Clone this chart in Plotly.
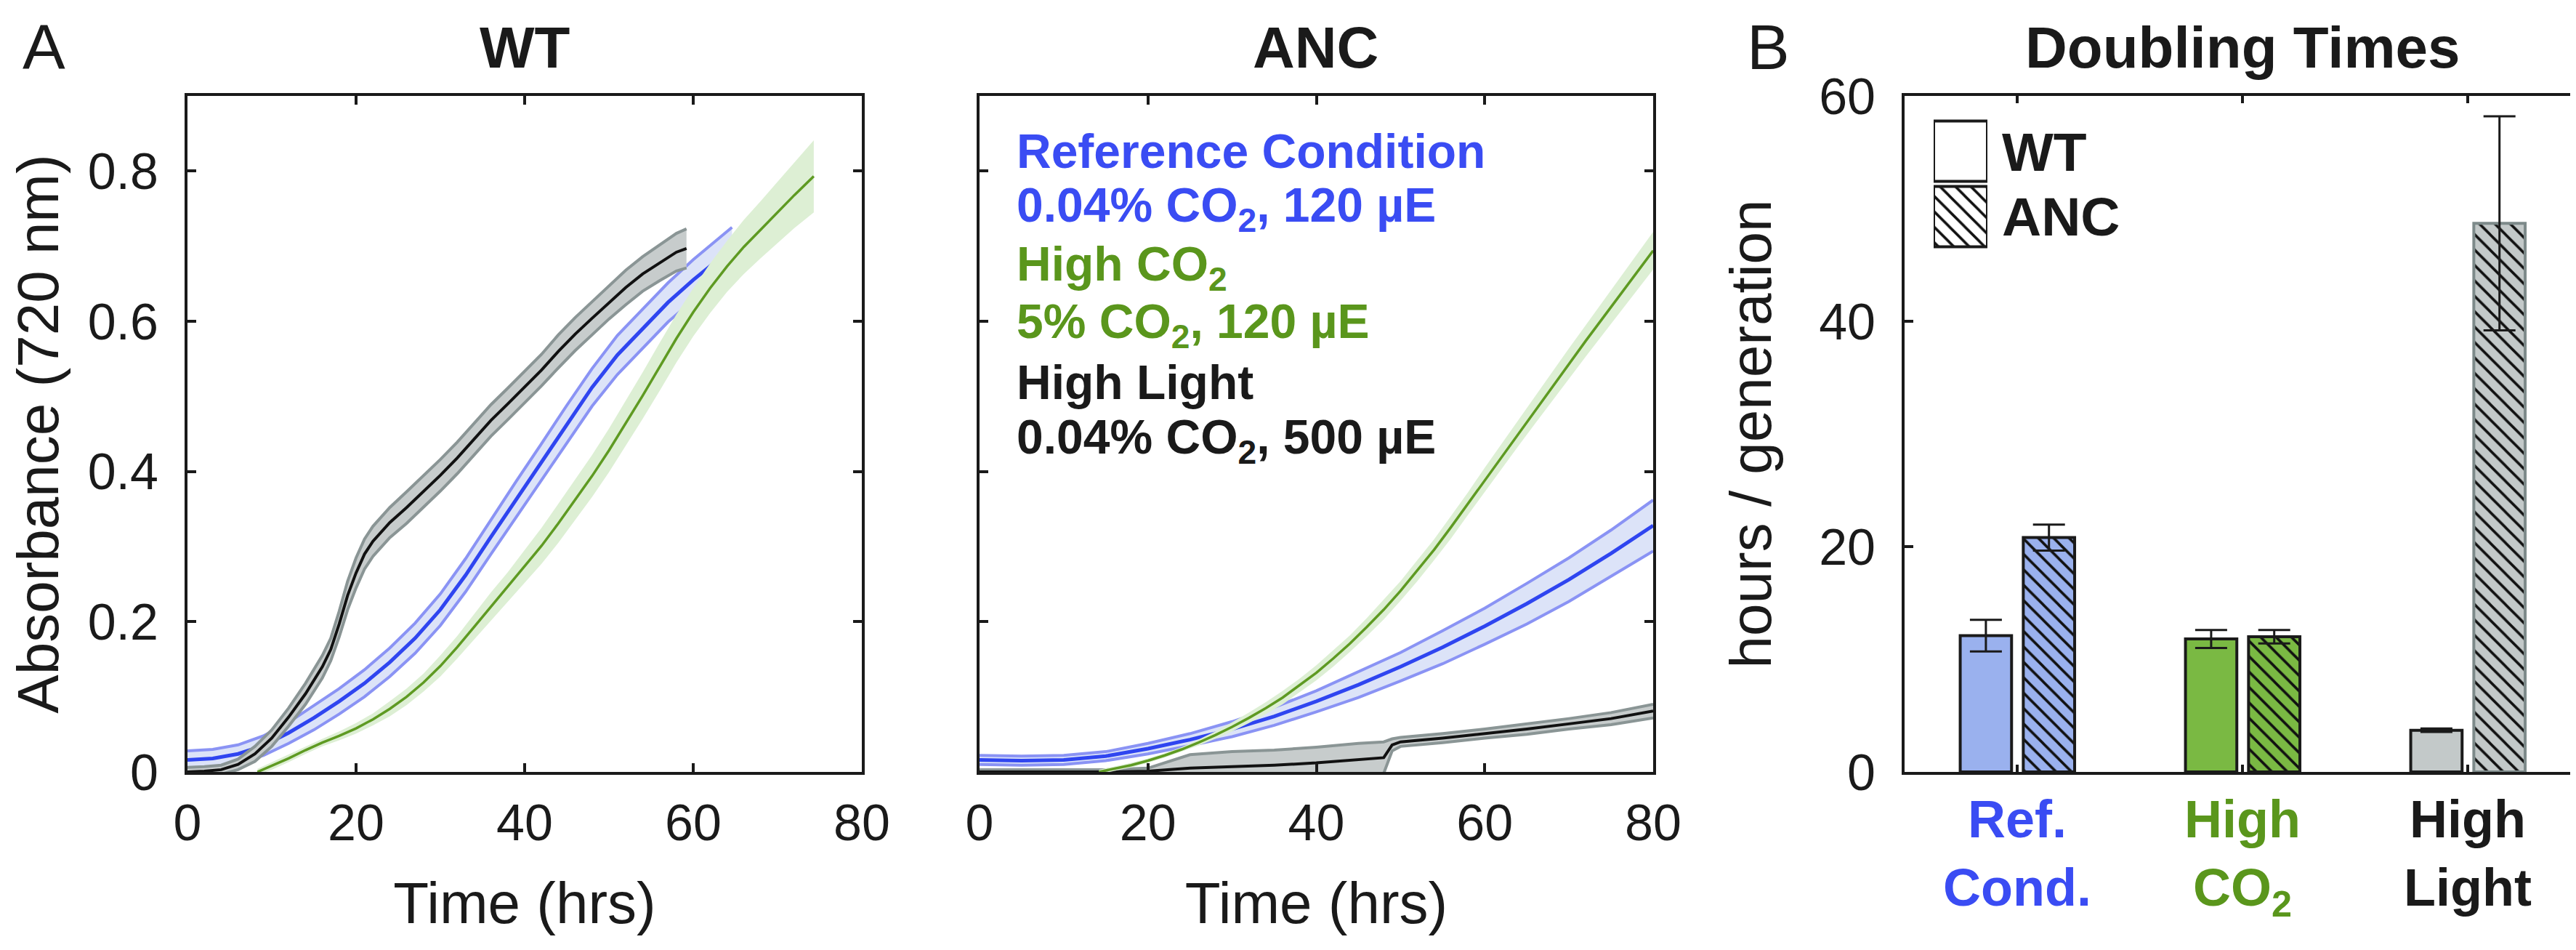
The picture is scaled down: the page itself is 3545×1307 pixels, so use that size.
import plotly.graph_objects as go

# ---------------- data ----------------
# Panel A, WT strain: time (hrs), mean absorbance, half-width of shaded band
wt_ref_t = [0, 3, 6, 9, 12, 15, 18, 21, 24, 27, 30, 33, 36, 39, 42, 45, 48, 51, 54, 57, 60, 63, 64.6]
wt_ref_y = [0.016, 0.018, 0.024, 0.035, 0.052, 0.072, 0.094, 0.118, 0.146, 0.178, 0.216, 0.262, 0.313,
            0.363, 0.413, 0.463, 0.512, 0.555, 0.590, 0.625, 0.655, 0.683, 0.697]
wt_ref_e = [0.012, 0.012, 0.012, 0.013, 0.014, 0.016, 0.017, 0.018, 0.019, 0.020, 0.021, 0.022, 0.023,
            0.024, 0.024, 0.025, 0.025, 0.026, 0.026, 0.026, 0.027, 0.027, 0.028]

wt_hl_t = [0, 2, 4, 6, 8, 10, 12, 14, 16, 17, 18, 19, 20, 21, 22, 24, 26, 28, 30, 32, 34, 36, 38, 40,
           42, 44, 46, 48, 50, 52, 54, 56, 58, 59.2]
wt_hl_y = [0.0, 0.001, 0.003, 0.010, 0.024, 0.045, 0.073, 0.104, 0.140, 0.163, 0.197, 0.235, 0.265,
           0.290, 0.307, 0.332, 0.352, 0.373, 0.395, 0.418, 0.443, 0.468, 0.490, 0.512, 0.535, 0.560,
           0.583, 0.604, 0.625, 0.645, 0.663, 0.678, 0.692, 0.697]
wt_hl_e = [0.006, 0.006, 0.006, 0.007, 0.010, 0.011, 0.012, 0.014, 0.015, 0.015, 0.017, 0.019, 0.020,
           0.020, 0.020, 0.020, 0.021, 0.021, 0.021, 0.021, 0.021, 0.021, 0.021, 0.021, 0.021, 0.022,
           0.022, 0.022, 0.022, 0.023, 0.023, 0.024, 0.025, 0.026]

wt_co2_t = [8.3, 10, 12, 14, 16, 18, 20, 22, 24, 26, 28, 30, 32, 34, 36, 38, 40, 42, 44, 46, 48, 50,
            52, 54, 56, 58, 60, 62, 64, 66, 68, 70, 72, 74.3]
wt_co2_y = [0.0, 0.008, 0.018, 0.029, 0.039, 0.048, 0.058, 0.070, 0.084, 0.100, 0.119, 0.141, 0.166,
            0.193, 0.220, 0.246, 0.273, 0.301, 0.331, 0.362, 0.394, 0.428, 0.464, 0.501, 0.539, 0.577,
            0.612, 0.644, 0.673, 0.699, 0.722, 0.745, 0.768, 0.793]
wt_co2_e = [0.004, 0.005, 0.005, 0.005, 0.005, 0.006, 0.007, 0.008, 0.010, 0.011, 0.012, 0.014, 0.015,
            0.017, 0.019, 0.020, 0.022, 0.024, 0.026, 0.027, 0.028, 0.029, 0.030, 0.031, 0.032, 0.032,
            0.032, 0.033, 0.034, 0.036, 0.038, 0.041, 0.044, 0.048]

# Panel A, ANC strain
anc_ref_t = [0, 5, 10, 15, 20, 25, 30, 35, 40, 45, 50, 55, 60, 65, 70, 75, 80]
anc_ref_y = [0.016, 0.015, 0.016, 0.021, 0.031, 0.043, 0.057, 0.074, 0.094, 0.116, 0.140, 0.166, 0.194,
             0.224, 0.256, 0.291, 0.328]
anc_ref_e = [0.006, 0.006, 0.006, 0.006, 0.007, 0.008, 0.010, 0.012, 0.014, 0.017, 0.019, 0.022, 0.024,
             0.027, 0.029, 0.031, 0.034]

anc_co2_t = [14.2, 16, 18, 20, 22, 24, 26, 28, 30, 32, 34, 36, 38, 40, 42, 44, 46, 48, 50, 52, 54, 56,
             58, 60, 62, 64, 66, 68, 70, 72, 74, 76, 78, 80]
anc_co2_y = [0.0, 0.004, 0.009, 0.015, 0.022, 0.030, 0.039, 0.049, 0.060, 0.072, 0.085, 0.099, 0.115,
             0.132, 0.151, 0.171, 0.193, 0.216, 0.241, 0.268, 0.296, 0.326, 0.357, 0.389, 0.420, 0.451,
             0.482, 0.513, 0.544, 0.574, 0.604, 0.634, 0.664, 0.694]
anc_co2_e = [0.003, 0.003, 0.003, 0.003, 0.003, 0.003, 0.004, 0.005, 0.006, 0.007, 0.008, 0.009, 0.009,
             0.010, 0.011, 0.011, 0.012, 0.013, 0.013, 0.014, 0.014, 0.015, 0.015, 0.016, 0.017, 0.017,
             0.018, 0.019, 0.020, 0.021, 0.022, 0.023, 0.024, 0.025]

anc_hl_t = [0, 5, 10, 15, 20, 25, 30, 35, 40, 45, 48, 49, 50, 55, 60, 65, 70, 75, 80]
anc_hl_y = [0.0, 0.0, 0.0, 0.0, 0.001, 0.005, 0.007, 0.009, 0.012, 0.016, 0.019, 0.036, 0.040, 0.045,
            0.051, 0.057, 0.064, 0.071, 0.081]
anc_hl_e = [0.003, 0.003, 0.003, 0.003, 0.004, 0.018, 0.020, 0.020, 0.021, 0.022, 0.021, 0.008, 0.006,
            0.006, 0.006, 0.007, 0.007, 0.008, 0.009]

# Panel B: doubling times (hours / generation)
conditions = ["Ref. Cond.", "High CO2", "High Light"]
cond_pos = [1, 2, 3]
wt_dt = [12.1, 11.8, 3.7]
wt_dt_err = [1.4, 0.8, 0.15]
anc_dt = [20.8, 12.0, 48.7]
anc_dt_err = [1.15, 0.6, 9.5]

time_ticks = [0, 20, 40, 60, 80]
abs_ticks = [0, 0.2, 0.4, 0.6, 0.8]
abs_labels = ["0", "0.2", "0.4", "0.6", "0.8"]
dt_ticks = [0, 20, 40, 60]

# ---------------- style ----------------
W, H = 3545, 1307
FONT = "Liberation Sans"
INK = "#1a1a1a"

BLUE_LINE, BLUE_EDGE, BLUE_FILL = "#2f45f0", "#8a93f4", "#dce3f8"
GRAY_LINE, GRAY_EDGE, GRAY_FILL = "#111111", "#8a9595", "#c7cccc"
GREEN_LINE, GREEN_FILL = "#5e9a22", "#ddefd4"

REF_TXT, CO2_TXT, HL_TXT = "#3a4cf3", "#5a961c", "#1a1a1a"
BAR_COLORS = ["#9ab1ee", "#7ab943", "#c3c9c9"]
ANC_EDGE = [INK, INK, "#7d8a8a"]


def fx(x):
    return x / W


def fy(y):
    return 1 - y / H


WT_BOX = (250, 1178)
ANC_BOX = (1340, 2267)
B_BOX = (2613, 3543)
Y_BOX = (124, 1054)

fig = go.Figure()


def band(t, y, e, xa, ya, line, edge, fill, edge_w, line_w):
    lo = [a - b for a, b in zip(y, e)]
    hi = [a + b for a, b in zip(y, e)]
    common = dict(mode="lines", xaxis=xa, yaxis=ya, showlegend=False, hoverinfo="skip")
    fig.add_trace(go.Scatter(x=t, y=lo, line=dict(color=edge, width=edge_w), **common))
    fig.add_trace(go.Scatter(x=t, y=hi, line=dict(color=edge, width=edge_w), fill="tonexty",
                             fillcolor=fill, **common))
    fig.add_trace(go.Scatter(x=t, y=y, line=dict(color=line, width=line_w), **common))


# WT panel
band(wt_ref_t, wt_ref_y, wt_ref_e, "x", "y", BLUE_LINE, BLUE_EDGE, BLUE_FILL, 4, 5)
band(wt_hl_t, wt_hl_y, wt_hl_e, "x", "y", GRAY_LINE, GRAY_EDGE, GRAY_FILL, 4, 4)
band(wt_co2_t, wt_co2_y, wt_co2_e, "x", "y", GREEN_LINE, GREEN_FILL, GREEN_FILL, 0, 3.5)
# ANC panel
band(anc_ref_t, anc_ref_y, anc_ref_e, "x2", "y2", BLUE_LINE, BLUE_EDGE, BLUE_FILL, 4, 5)
band(anc_hl_t, anc_hl_y, anc_hl_e, "x2", "y2", GRAY_LINE, GRAY_EDGE, GRAY_FILL, 4, 4)
band(anc_co2_t, anc_co2_y, anc_co2_e, "x2", "y2", GREEN_LINE, GREEN_FILL, GREEN_FILL, 0, 3.5)

# Panel B bars
BAR_W = 0.228
fig.add_trace(go.Bar(
    x=cond_pos, y=wt_dt, width=BAR_W, offset=-0.253, xaxis="x3", yaxis="y3", showlegend=False,
    marker=dict(color=BAR_COLORS, line=dict(color=INK, width=4)),
    error_y=dict(type="data", array=wt_dt_err, color=INK, thickness=3, width=22),
))
for i in range(len(cond_pos)):
    fig.add_trace(go.Bar(
        x=[cond_pos[i]], y=[anc_dt[i]], width=BAR_W, offset=0.027, xaxis="x3", yaxis="y3",
        showlegend=False,
        marker=dict(color=BAR_COLORS[i], line=dict(color=ANC_EDGE[i], width=4),
                    pattern=dict(shape="\\", fgcolor="#111111", bgcolor=BAR_COLORS[i], size=15,
                                 solidity=0.24, fillmode="replace")),
        error_y=dict(type="data", array=[anc_dt_err[i]], color=INK, thickness=3, width=22),
    ))

# legend keys for panel B (drawn as bars on a small hidden axis)
fig.add_trace(go.Bar(x=[1], y=[1], orientation="h", width=0.92, xaxis="x4", yaxis="y4",
                     showlegend=False, hoverinfo="skip",
                     marker=dict(color="white", line=dict(color=INK, width=4))))
fig.add_trace(go.Bar(x=[1], y=[0], orientation="h", width=0.92, xaxis="x4", yaxis="y4",
                     showlegend=False, hoverinfo="skip",
                     marker=dict(color="white", line=dict(color=INK, width=4),
                                 pattern=dict(shape="\\", fgcolor="#111111", bgcolor="white",
                                              size=15, solidity=0.24, fillmode="replace"))))

tickfont = dict(family=FONT, size=70, color=INK)
titlefont = dict(family=FONT, size=80, color=INK)


def axis(**kw):
    d = dict(showline=True, linecolor=INK, linewidth=4, mirror="ticks", ticks="inside",
             ticklen=12, tickwidth=4, tickcolor=INK, showgrid=False, zeroline=False,
             tickfont=tickfont, automargin=False)
    d.update(kw)
    return d


ydom = [fy(Y_BOX[1]), fy(Y_BOX[0])]

cat_text = [
    f"<span style='color:{REF_TXT}'>Ref.<br>Cond.</span>",
    f"<span style='color:{CO2_TXT}'>High<br>CO<sub>2</sub></span>",
    "High<br>Light",
]

fig.update_layout(
    width=W, height=H, margin=dict(l=0, r=0, t=0, b=0),
    paper_bgcolor="white", plot_bgcolor="white", barmode="overlay",
    font=dict(family=FONT, color=INK),
    xaxis=axis(domain=[fx(WT_BOX[0]), fx(WT_BOX[1])], range=[0, 80], tickvals=time_ticks,
               anchor="y", title=dict(text="Time (hrs)", font=titlefont, standoff=45),
               ticklabelstandoff=6),
    yaxis=axis(domain=ydom, range=[0, 0.9], tickvals=abs_ticks, ticktext=abs_labels, anchor="x",
               title=dict(text="Absorbance (720 nm)", font=titlefont, standoff=48),
               ticklabelstandoff=22),
    xaxis2=axis(domain=[fx(ANC_BOX[0]), fx(ANC_BOX[1])], range=[0, 80], tickvals=time_ticks,
                anchor="y2", title=dict(text="Time (hrs)", font=titlefont, standoff=45),
                ticklabelstandoff=6),
    yaxis2=axis(domain=ydom, range=[0, 0.9], tickvals=abs_ticks, showticklabels=False, anchor="x2"),
    xaxis3=axis(domain=[fx(B_BOX[0]), fx(B_BOX[1])], range=[0.5, 3.5], tickvals=cond_pos,
                ticktext=cat_text, anchor="y3", ticklen=10,
                tickfont=dict(family=FONT, size=72, color=INK, weight="bold"), ticklabelstandoff=0),
    yaxis3=axis(domain=ydom, range=[0, 60], tickvals=dt_ticks, anchor="x3",
                title=dict(text="hours / generation", font=titlefont, standoff=40),
                ticklabelstandoff=22),
    xaxis4=dict(domain=[fx(2653), fx(2727)], range=[0, 1], visible=False, anchor="y4",
                fixedrange=True),
    yaxis4=dict(domain=[fy(335), fy(155)], range=[-0.5, 1.5], visible=False, anchor="x4",
                fixedrange=True),
)

ann = []


def label(x, y, text, size, color=INK, bold=False, xanchor="center"):
    ann.append(dict(x=fx(x), y=fy(y), xref="paper", yref="paper", text=text, showarrow=False,
                    xanchor=xanchor, yanchor="middle",
                    font=dict(family=FONT, size=size, color=color,
                              weight="bold" if bold else "normal")))


label(52, 56, "A", 88)
label(2425, 56, "B", 88)
label(714, 57, "WT", 80, bold=True)
label(1803, 57, "ANC", 80, bold=True)
label(3078, 57, "Doubling Times", 80, bold=True)

legend_lines = [
    ("Reference Condition", REF_TXT),
    ("0.04% CO<sub>2</sub>, 120 µE", REF_TXT),
    ("High CO<sub>2</sub>", CO2_TXT),
    ("5% CO<sub>2</sub>, 120 µE", CO2_TXT),
    ("High Light", HL_TXT),
    ("0.04% CO<sub>2</sub>, 500 µE", HL_TXT),
]
legend_y = [200, 279, 360, 439, 518, 598]
for (txt, col), yy in zip(legend_lines, legend_y):
    label(1389, yy, txt, 66, color=col, bold=True, xanchor="left")

label(2745, 201, "WT", 75, bold=True, xanchor="left")
label(2745, 290, "ANC", 75, bold=True, xanchor="left")

fig.update_layout(annotations=ann)

fig.write_html("out.html")
